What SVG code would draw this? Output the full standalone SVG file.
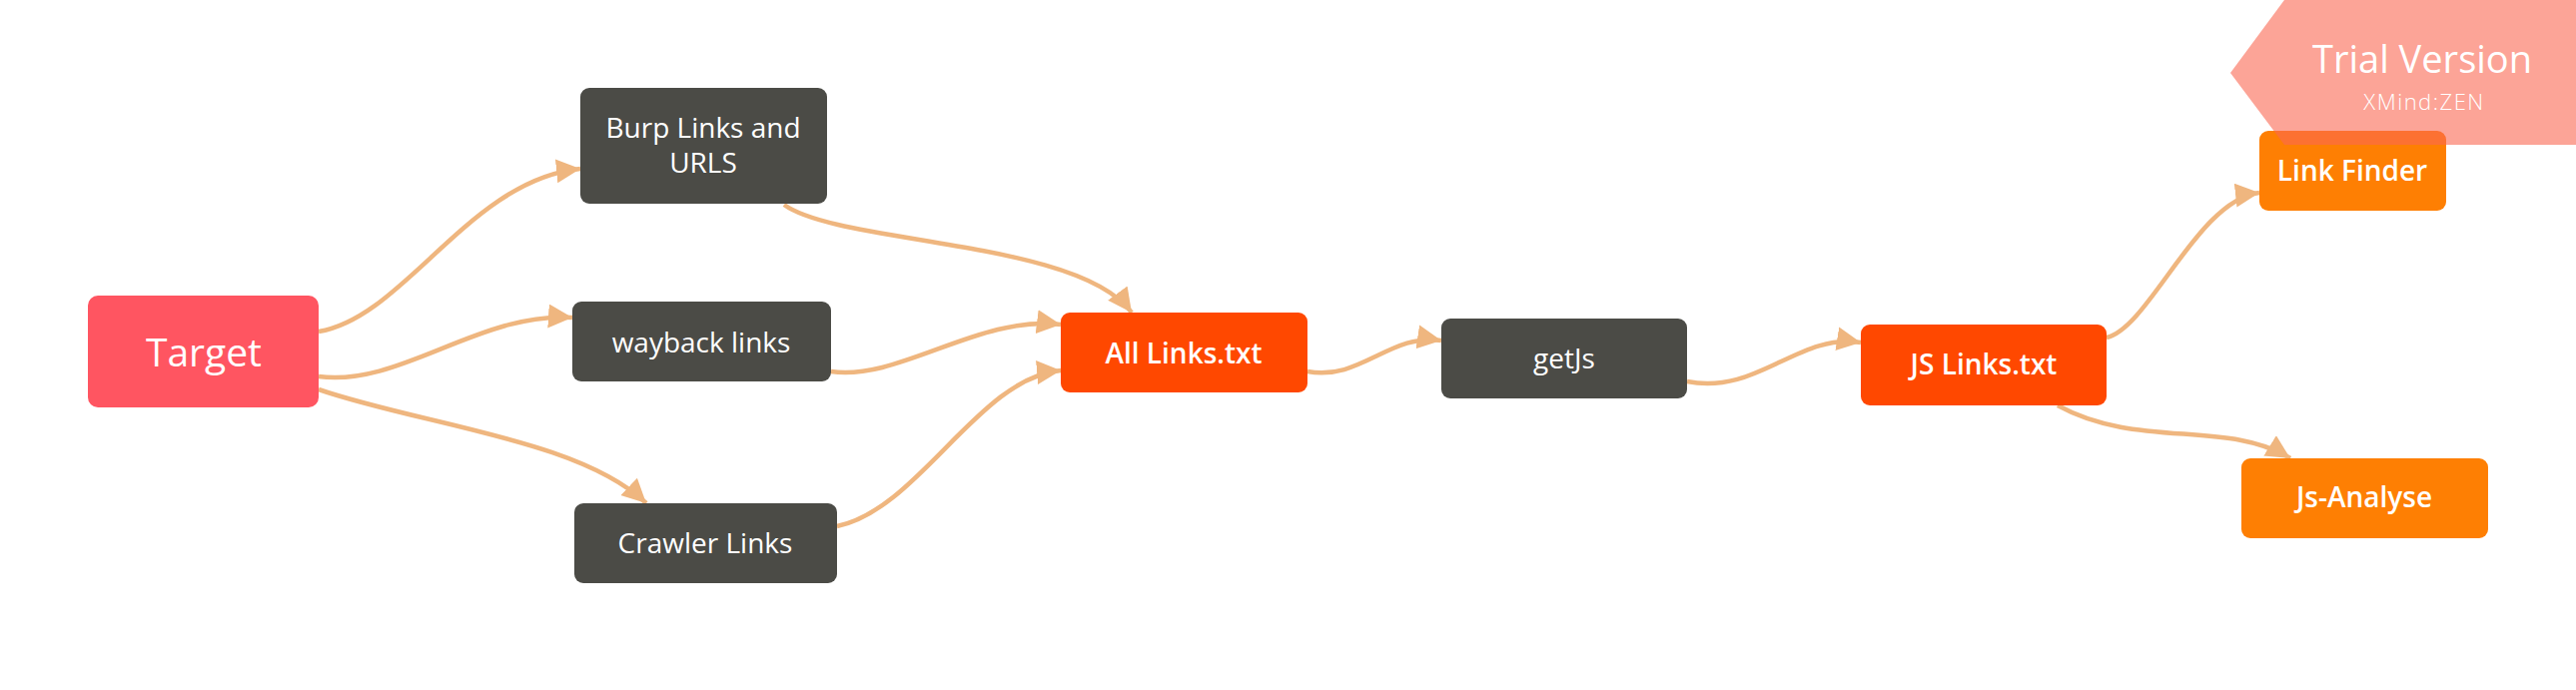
<svg xmlns="http://www.w3.org/2000/svg" width="2579" height="691" viewBox="0 0 2579 691">
<style>
.lbl{font-family:"Open Sans","Liberation Sans",sans-serif;fill:#FFFFFF;text-anchor:middle}
.dark{fill:#4B4B46}
.red{fill:#FF5561}
.hot{fill:#FF4800}
.org{fill:#FE7F03}
.conn{fill:none;stroke:#EFB67F;stroke-width:4.5}
</style>
<defs>
<marker id="arr" markerUnits="userSpaceOnUse" markerWidth="26" markerHeight="26" refX="24" refY="12" orient="auto">
<path d="M0,0 L24,12 L0,24 z" fill="#EFB67F"/>
</marker>
</defs>
<rect width="2579" height="691" fill="#FFFFFF"/>
<g id="connectors">
<path class="conn" marker-end="url(#arr)" d="M319,332 C405,318 470,180 581,169"/>
<path class="conn" marker-end="url(#arr)" d="M319,377 C400,388 480,312 573,318"/>
<path class="conn" marker-end="url(#arr)" d="M319,390 C420,425 580,440 647,504"/>
<path class="conn" marker-end="url(#arr)" d="M785,205 C840,245 1080,240 1133,313"/>
<path class="conn" marker-end="url(#arr)" d="M832,372 C900,382 980,315 1062,325"/>
<path class="conn" marker-end="url(#arr)" d="M838,527 C920,510 980,378 1062,371"/>
<path class="conn" marker-end="url(#arr)" d="M1309,372 C1362,382 1392,333 1443,341"/>
<path class="conn" marker-end="url(#arr)" d="M1689,382 C1760,396 1800,333 1863,343"/>
<path class="conn" marker-end="url(#arr)" d="M2109,338 C2152,328 2200,200 2262,193"/>
<path class="conn" marker-end="url(#arr)" d="M2060,406 C2140,450 2230,420 2293,459"/>
</g>
<g id="node-target">
<rect class="red" x="88" y="296" width="231" height="112" rx="10"/>
<text class="lbl" x="204" y="367" font-size="39" font-weight="500">Target</text>
</g>
<g id="node-burp">
<rect class="dark" x="581" y="88" width="247" height="116" rx="9"/>
<text class="lbl" x="704" y="138" font-size="28">Burp Links and</text>
<text class="lbl" x="704" y="173" font-size="28">URLS</text>
</g>
<g id="node-wayback">
<rect class="dark" x="573" y="302" width="259" height="80" rx="9"/>
<text class="lbl" x="702" y="353" font-size="28">wayback links</text>
</g>
<g id="node-crawler">
<rect class="dark" x="575" y="504" width="263" height="80" rx="9"/>
<text class="lbl" x="706" y="554" font-size="28">Crawler Links</text>
</g>
<g id="node-alllinks">
<rect class="hot" x="1062" y="313" width="247" height="80" rx="9"/>
<text class="lbl" x="1185" y="364" font-size="28" font-weight="600">All Links.txt</text>
</g>
<g id="node-getjs">
<rect class="dark" x="1443" y="319" width="246" height="80" rx="9"/>
<text class="lbl" x="1566" y="369" font-size="28">getJs</text>
</g>
<g id="node-jslinks">
<rect class="hot" x="1863" y="325" width="246" height="81" rx="9"/>
<text class="lbl" x="1986" y="375" font-size="28" font-weight="600">JS Links.txt</text>
</g>
<g id="node-linkfinder">
<rect class="org" x="2262" y="131" width="187" height="80" rx="9"/>
<text class="lbl" x="2355" y="181" font-size="28" font-weight="600">Link Finder</text>
</g>
<g id="node-jsanalyse">
<rect class="org" x="2244" y="459" width="247" height="80" rx="9"/>
<text class="lbl" x="2367" y="508" font-size="28" font-weight="600">Js-Analyse</text>
</g>
<g id="trial-banner">
<polygon points="2287,0 2579,0 2579,145 2287,145 2233,73" fill="#FA6852" fill-opacity="0.6"/>
<text class="lbl" x="2425" y="73" font-size="38">Trial Version</text>
<text class="lbl" x="2427" y="110" font-size="22" letter-spacing="1.5" font-weight="300">XMind:ZEN</text>
</g>
</svg>
